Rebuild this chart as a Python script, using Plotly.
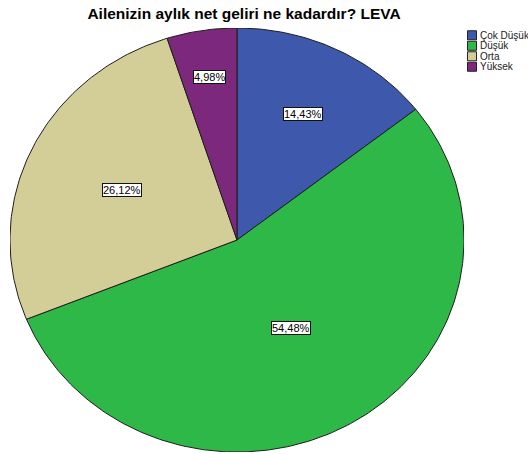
import numpy as np
import plotly.graph_objects as go

# ---- data ----
categories = ["Çok Düşük", "Düşük", "Orta", "Yüksek"]
percentages = [14.43, 54.48, 26.12, 4.98]
title_text = "Ailenizin aylık net geliri ne kadardır? LEVA"

# ---- style ----
colors = ["#3E58AC", "#2EB848", "#D3CE97", "#7C287D"]
label_radius = [0.66, 0.48, 0.56, 0.78]
FONT = "Liberation Sans, Arial, sans-serif"
W, H = 528, 454

fig = go.Figure()

total = sum(percentages)
start = 0.0
annotations = []
for cat, p, col, lr in zip(categories, percentages, colors, label_radius):
    a0 = start / total * 2 * np.pi
    a1 = (start + p) / total * 2 * np.pi
    n = max(int(400 * p / total), 20)
    th = np.linspace(a0, a1, n)
    xs = np.concatenate([[0], np.sin(th), [0]])
    ys = np.concatenate([[0], np.cos(th), [0]])
    fig.add_trace(go.Scatter(
        x=xs, y=ys, mode="lines", fill="toself", fillcolor=col,
        line=dict(color="#1e1e1e", width=1), hoverinfo="skip",
        showlegend=False, xaxis="x", yaxis="y", name=cat))
    mid = (a0 + a1) / 2
    annotations.append(dict(
        x=lr * np.sin(mid), y=lr * np.cos(mid), xref="x", yref="y",
        text=f"{p:.2f}".replace(".", ",") + "%", showarrow=False,
        bgcolor="white", bordercolor="#111", borderwidth=1, borderpad=0,
        font=dict(family=FONT, size=11, color="black")))
    start += p

# custom compact legend
idx = list(range(len(categories)))
fig.add_trace(go.Scatter(
    x=[12] * len(categories), y=idx, mode="markers",
    marker=dict(symbol="square", size=9, color=colors,
                line=dict(color="#222", width=1)),
    hoverinfo="skip", showlegend=False, xaxis="x2", yaxis="y2"))
for i, cat in enumerate(categories):
    annotations.append(dict(
        x=18, y=i, xref="x2", yref="y2", text=cat, showarrow=False,
        xanchor="left", yanchor="middle",
        font=dict(family=FONT, size=10, color="#222")))

fig.update_layout(
    width=W, height=H,
    margin=dict(l=0, r=0, t=0, b=0),
    paper_bgcolor="white", plot_bgcolor="white",
    title=dict(text=title_text, x=244 / W, xref="container", xanchor="center",
               y=1 - 14 / H, yref="container", yanchor="middle",
               font=dict(family=FONT, size=15.5, color="black", weight="bold")),
    xaxis=dict(domain=[10 / W, 464 / W], range=[-1, 1], visible=False, fixedrange=True),
    yaxis=dict(domain=[2 / H, 1 - 28 / H], range=[-1, 1], visible=False, fixedrange=True),
    xaxis2=dict(domain=[460 / W, 1], range=[0, 68], visible=False, anchor="y2", fixedrange=True),
    yaxis2=dict(domain=[1 - 72 / H, 1 - 30 / H], range=[3.5, -0.5], visible=False, anchor="x2", fixedrange=True),
    annotations=annotations,
    showlegend=False,
)

fig.write_html("out.html", config={"displayModeBar": False},
               post_script="document.body.style.margin='0';document.body.style.overflow='hidden';")
